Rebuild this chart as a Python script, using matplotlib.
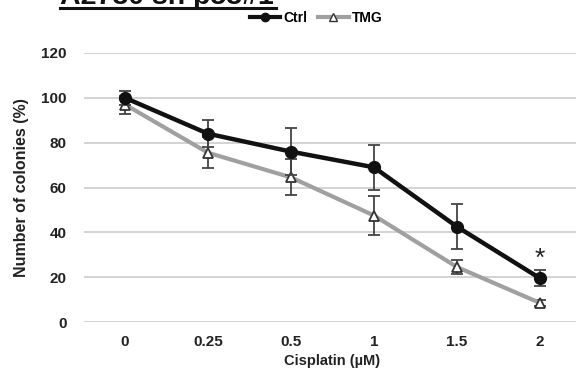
import numpy as np
import matplotlib
matplotlib.use("Agg")
import matplotlib.pyplot as plt
from matplotlib.lines import Line2D

plt.rcParams['font.family'] = ['Liberation Sans', 'DejaVu Sans']

doses = ["0", "0.25", "0.5", "1", "1.5", "2"]
ctrl = [100, 84, 76, 69, 42.5, 19.5]
ctrl_err = [3, 6, 10.5, 10, 10, 3.5]
tmg = [97, 75.5, 64.5, 47.5, 24.5, 8.5]
tmg_err = [4, 7, 8, 8.5, 3, 1.5]

W, H = 576, 379
fig = plt.figure(figsize=(W / 100, H / 100), dpi=100)
ax = fig.add_axes([83.5 / W, 1 - 322 / H, 498 / W, 269 / H])

x = np.arange(len(doses))
ax.errorbar(x, tmg, yerr=tmg_err, color='#a0a0a0', lw=3, marker='^', ms=7.5,
            mfc='white', mec='#333333', mew=1.3, ecolor='#444444', elinewidth=1.3,
            capsize=4, capthick=1.3, zorder=3)
ax.errorbar(x, ctrl, yerr=ctrl_err, color='#111111', lw=3.2, marker='o', ms=8.5,
            mfc='#111111', mec='#111111', ecolor='#444444', elinewidth=1.3,
            capsize=4, capthick=1.3, zorder=4)
ax.text(x[-1], ctrl[-1] + ctrl_err[-1] + 5, "*", ha='center', va='center',
        fontsize=19, color='#222222')

ax.set_xlim(-0.5, 5.5)
ax.set_ylim(0, 120)
ax.set_yticks(np.arange(0, 121, 20))
ax.set_xticks(x)
ax.set_xticklabels(doses)
ax.grid(axis='y', color='#d0d0d0', lw=1.3)
ax.set_axisbelow(True)
for s in ax.spines.values():
    s.set_visible(False)
ax.tick_params(length=0, labelsize=11, labelcolor='#222222')
ax.tick_params(axis='x', pad=9)
ax.tick_params(axis='y', pad=12)
for lbl in ax.get_xticklabels() + ax.get_yticklabels():
    lbl.set_fontweight('bold')
ax.set_xlabel("Cisplatin (\u00b5M)", fontsize=10.5, fontweight='bold', color='#222222', labelpad=4)
ax.set_ylabel("Number of colonies (%)", fontsize=11.5, fontweight='bold', color='#222222', labelpad=9)

# clipped title at top
fig.text(60 / W, 1 - 4.5 / H, "A2780 sh p53#1", fontsize=20.5, fontweight='bold',
         ha='left', va='baseline', color='#111111')
fig.add_artist(Line2D([60 / W, 276 / W], [1 - 8 / H, 1 - 8 / H], color='#111111', lw=2.2))

handles = [Line2D([], [], color='#111111', lw=3, marker='o', ms=6),
           Line2D([], [], color='#a0a0a0', lw=3, marker='^', ms=6, mfc='white', mec='#333333')]
fig.legend(handles, ["Ctrl", "TMG"], loc='center', bbox_to_anchor=(316 / W, 1 - 18 / H),
           ncol=2, frameon=False, handlelength=2.2, handletextpad=0.2, columnspacing=0.8,
           prop={'weight': 'bold', 'size': 10})

fig.savefig("out.png", dpi=100)
